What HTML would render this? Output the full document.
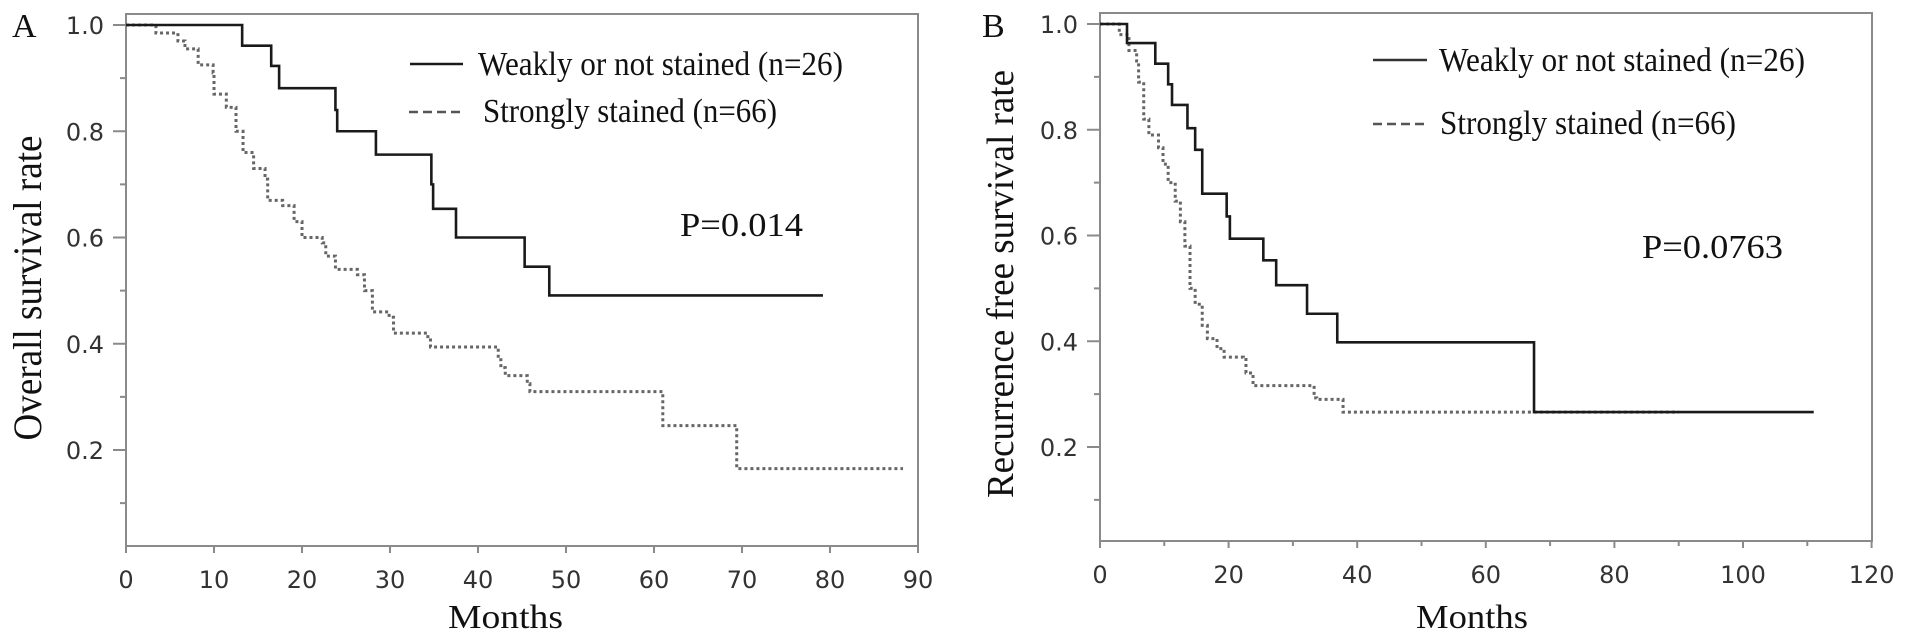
<!DOCTYPE html>
<html><head><meta charset="utf-8"><style>
html,body{margin:0;padding:0;background:#fff;}
svg{display:block;}
.tick{font-family:"DejaVu Sans","Liberation Sans",sans-serif;font-size:24px;fill:#333;}
.serif{font-family:"Liberation Serif",serif;fill:#111;}
</style></head><body>
<svg id="chart" width="1913" height="641" viewBox="0 0 1913 641" xmlns="http://www.w3.org/2000/svg">
<g id="pa"></g>
<g id="pb"></g>
</svg>
<script>
// Panel A data (months, survival after step)
const aSolidT = [0, 13.2, 16.5, 17.4, 23.8, 24.0, 28.4, 34.7, 34.9, 37.5, 45.3, 48.1];
const aSolidS = [1, 0.961, 0.923, 0.881, 0.84, 0.80, 0.756, 0.70, 0.654, 0.60, 0.545, 0.491];
const aSolidEnd = 79.2;
const aDotT = [0, 3.4, 5.9, 6.7, 8.2, 9.9, 10.0, 11.4, 12.5, 13.3, 14.5, 15.8, 16.1, 17.8, 19.1, 20.0, 22.3, 22.7, 23.8, 26.3, 27.1, 28.0, 29.9, 30.4, 34.3, 34.6, 42.3, 42.6, 43.1, 45.6, 45.9, 61.0, 69.4];
const aDotS = [1, 0.985, 0.97, 0.955, 0.925, 0.91, 0.87, 0.845, 0.80, 0.76, 0.73, 0.71, 0.67, 0.66, 0.63, 0.60, 0.59, 0.565, 0.54, 0.53, 0.50, 0.46, 0.45, 0.42, 0.41, 0.394, 0.37, 0.355, 0.34, 0.325, 0.31, 0.246, 0.165];
const aDotEnd = 88.3;
const aXTicks = [0,10,20,30,40,50,60,70,80,90];
// Panel B data
const bSolidT = [0, 4.2, 8.6, 10.6, 11.2, 13.6, 14.8, 15.9, 19.7, 20.2, 25.4, 27.4, 32.2, 36.9, 67.5];
const bSolidS = [1, 0.964, 0.925, 0.886, 0.847, 0.803, 0.762, 0.679, 0.636, 0.594, 0.553, 0.506, 0.452, 0.398, 0.266];
const bSolidEnd = 111;
const bDotT = [0, 3.0, 4.5, 5.7, 6.0, 6.8, 7.6, 9.1, 9.8, 10.6, 11.7, 12.5, 13.2, 14.0, 14.8, 15.9, 16.7, 18.2, 19.3, 22.3, 22.7, 23.8, 33.3, 33.7, 37.8];
const bDotS = [1, 0.98, 0.95, 0.93, 0.89, 0.82, 0.79, 0.766, 0.735, 0.70, 0.665, 0.626, 0.58, 0.50, 0.47, 0.43, 0.405, 0.386, 0.37, 0.369, 0.34, 0.316, 0.293, 0.29, 0.266];
const bDotEnd = 90;
const bXTicks = [0,20,40,60,80,100,120];
const yTicks = [1.0,0.8,0.6,0.4,0.2];
const yTickLabels = ["1.0","0.8","0.6","0.4","0.2"];
const yMinor = [0.9,0.7,0.5,0.3,0.1];

const NS="http://www.w3.org/2000/svg";
function mk(parent, tag, attrs, text){
  const e=document.createElementNS(NS,tag);
  for(const k in attrs) e.setAttribute(k, attrs[k]);
  if(text!==undefined) e.textContent=text;
  parent.appendChild(e); return e;
}
function stepPath(T,S,end,x,y){
  let d="M"+x(T[0])+","+y(S[0]);
  for(let i=1;i<T.length;i++){ d+=" H"+x(T[i])+" V"+y(S[i]); }
  d+=" H"+x(end);
  return d;
}
function panel(g, cfg){
  const {x,y,left,right,top,bottom} = cfg;
  const box=mk(g,"rect",{x:left,y:top,width:right-left,height:bottom-top,fill:"none",stroke:"#8a8a8a","stroke-width":2});
  
  
  yTicks.forEach((v,i)=>{
    const t=mk(g,"line",{x1:left-13,x2:left,y1:y(v),y2:y(v),stroke:"#8a8a8a","stroke-width":2});
    
    
    const l=mk(g,"text",{x:left-22,y:y(v)+9,"text-anchor":"end",class:"tick"},yTickLabels[i]);
    
    
  });
  yMinor.forEach(v=>{
    const t=mk(g,"line",{x1:left-6,x2:left,y1:y(v),y2:y(v),stroke:"#8a8a8a","stroke-width":2});
    
    
  });
  cfg.xTicks.forEach((m,i)=>{
    const t=mk(g,"line",{x1:x(m),x2:x(m),y1:bottom,y2:bottom+7,stroke:"#8a8a8a","stroke-width":2});
    
    
    const l=mk(g,"text",{x:x(m),y:bottom+42,"text-anchor":"middle",class:"tick"},String(m));
    
    
    if(cfg.minorX && i<cfg.xTicks.length-1){
      const mm=(m+cfg.xTicks[i+1])/2;
      const t2=mk(g,"line",{x1:x(mm),x2:x(mm),y1:bottom,y2:bottom+5,stroke:"#8a8a8a","stroke-width":2});
      
      
    }
  });
  const dp=mk(g,"path",{d:stepPath(cfg.dT,cfg.dS,cfg.dEnd,x,y),fill:"none",stroke:"#666","stroke-width":3,"stroke-dasharray":"3 3"});
  
  
  const sp=mk(g,"path",{d:stepPath(cfg.sT,cfg.sS,cfg.sEnd,x,y),fill:"none",stroke:"#1a1a1a","stroke-width":2.6});
  
  
}
const xA=m=>126+m*8.8, yA=v=>25+(1-v)*531.25;
const xB=m=>1100+m*6.43, yB=v=>24+(1-v)*528.75;
panel(document.getElementById('pa'),{x:xA,y:yA,left:126,right:918,top:14,bottom:546,xTicks:aXTicks,minorX:false,sT:aSolidT,sS:aSolidS,sEnd:aSolidEnd,dT:aDotT,dS:aDotS,dEnd:aDotEnd});
panel(document.getElementById('pb'),{x:xB,y:yB,left:1100,right:1872,top:13,bottom:541,xTicks:bXTicks,minorX:true,sT:bSolidT,sS:bSolidS,sEnd:bSolidEnd,dT:bDotT,dS:bDotS,dEnd:bDotEnd});
</script>
<svg style="position:absolute;left:0;top:0" width="1913" height="641" xmlns="http://www.w3.org/2000/svg">
<g class="serif">
<text x="12" y="37" font-size="34">A</text>
<text x="982" y="37" font-size="34">B</text>
<text transform="translate(41,288) rotate(-90)" text-anchor="middle" font-size="40" textLength="305" lengthAdjust="spacingAndGlyphs">Overall survival rate</text>
<text transform="translate(1013,284) rotate(-90)" text-anchor="middle" font-size="38" textLength="428" lengthAdjust="spacingAndGlyphs">Recurrence free survival rate</text>
<text x="448" y="628" font-size="34" textLength="115" lengthAdjust="spacingAndGlyphs">Months</text>
<text x="1416" y="628" font-size="34" textLength="112" lengthAdjust="spacingAndGlyphs">Months</text>
<g>
<line x1="410" y1="64" x2="463" y2="64" stroke="#1a1a1a" stroke-width="2.6"/>
<text x="478" y="75" font-size="34" textLength="365" lengthAdjust="spacingAndGlyphs">Weakly or not stained (n=26)</text>
<line x1="409" y1="112" x2="463" y2="112" stroke="#555" stroke-width="2.6" stroke-dasharray="9 5"/>
<text x="483" y="122" font-size="34" textLength="294" lengthAdjust="spacingAndGlyphs">Strongly stained (n=66)</text>
</g>
<text x="680" y="236" font-size="34" textLength="123" lengthAdjust="spacingAndGlyphs">P=0.014</text>
<g>
<line x1="1373" y1="60" x2="1427" y2="60" stroke="#333" stroke-width="2.6"/>
<text x="1439" y="71" font-size="34" textLength="366" lengthAdjust="spacingAndGlyphs">Weakly or not stained (n=26)</text>
<line x1="1373" y1="124" x2="1427" y2="124" stroke="#555" stroke-width="2.6" stroke-dasharray="9 5"/>
<text x="1440" y="134" font-size="34" textLength="296" lengthAdjust="spacingAndGlyphs">Strongly stained (n=66)</text>
</g>
<text x="1642" y="258" font-size="34" textLength="141" lengthAdjust="spacingAndGlyphs">P=0.0763</text>
</g>
</svg>
</body></html>
